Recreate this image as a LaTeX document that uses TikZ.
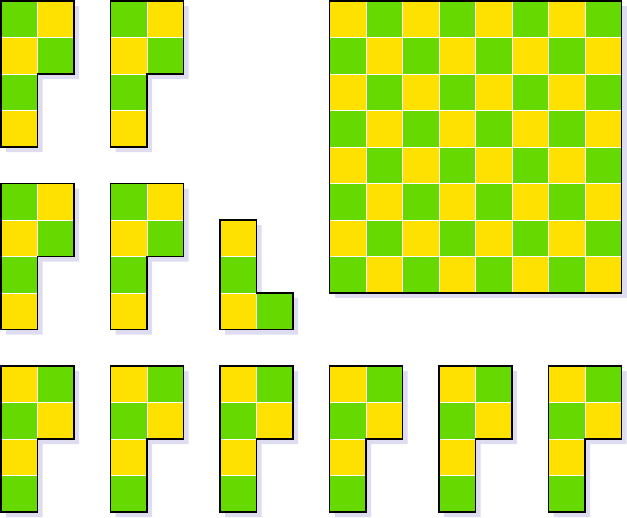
\documentclass[tikz,border=0pt]{standalone}
\usepackage{tikz}
\definecolor{tileyellow}{HTML}{FFE100}
\definecolor{tilegreen}{HTML}{66DA00}
\definecolor{shade}{HTML}{DDDCF0}
\tikzset{
  cell/.style={draw=white, line width=0.6pt},
  outline/.style={draw=black, line width=1.4pt},
  shadow/.style={fill=shade, draw=none}
}
% hexomino at (#1,#2), corner colour #3, other colour #4
\newcommand{\hexpiece}[4]{%
  \fill[shadow] (#1+0.14,#2+0.14) -- ++(2,0) -- ++(0,2) -- ++(-1,0) -- ++(0,2) -- ++(-1,0) -- cycle;
  \foreach \i/\j/\c in {0/0/#3,1/0/#4,0/1/#4,1/1/#3,0/2/#3,0/3/#4}
    {\filldraw[cell, fill=\c] (#1+\i,#2+\j) rectangle ++(1,1);}
  \draw[outline] (#1,#2) -- ++(2,0) -- ++(0,2) -- ++(-1,0) -- ++(0,2) -- ++(-1,0) -- cycle;
}

\begin{document}
\begin{tikzpicture}[x=1cm, y=-1cm]
\useasboundingbox (-0.027,-0.027) rectangle (17.15,14.16);

% top rows
\hexpiece{0}{0}{tilegreen}{tileyellow}
\hexpiece{3}{0}{tilegreen}{tileyellow}
\hexpiece{0}{5}{tilegreen}{tileyellow}
\hexpiece{3}{5}{tilegreen}{tileyellow}

% L piece
\fill[shadow] (6.14,6.14) -- ++(1,0) -- ++(0,2) -- ++(1,0) -- ++(0,1) -- ++(-2,0) -- cycle;
\foreach \i/\j/\c in {0/0/tileyellow,0/1/tilegreen,0/2/tileyellow,1/2/tilegreen}
  \filldraw[cell, fill=\c] (6+\i,6+\j) rectangle ++(1,1);
\draw[outline] (6,6) -- ++(1,0) -- ++(0,2) -- ++(1,0) -- ++(0,1) -- ++(-2,0) -- cycle;

% board
\fill[shadow] (9.14,0.14) rectangle ++(8,8);
\foreach \i in {0,...,7}
  \foreach \j in {0,...,7} {
    \pgfmathtruncatemacro\p{mod(\i+\j,2)}
    \ifnum\p=0 \def\c{tileyellow}\else\def\c{tilegreen}\fi
    \filldraw[cell, fill=\c] (9+\i,\j) rectangle ++(1,1);
  }
\draw[outline] (9,0) rectangle ++(8,8);

% bottom row
\foreach \x in {0,3,...,15} {
  \hexpiece{\x}{10}{tileyellow}{tilegreen}
}
\end{tikzpicture}
\end{document}
